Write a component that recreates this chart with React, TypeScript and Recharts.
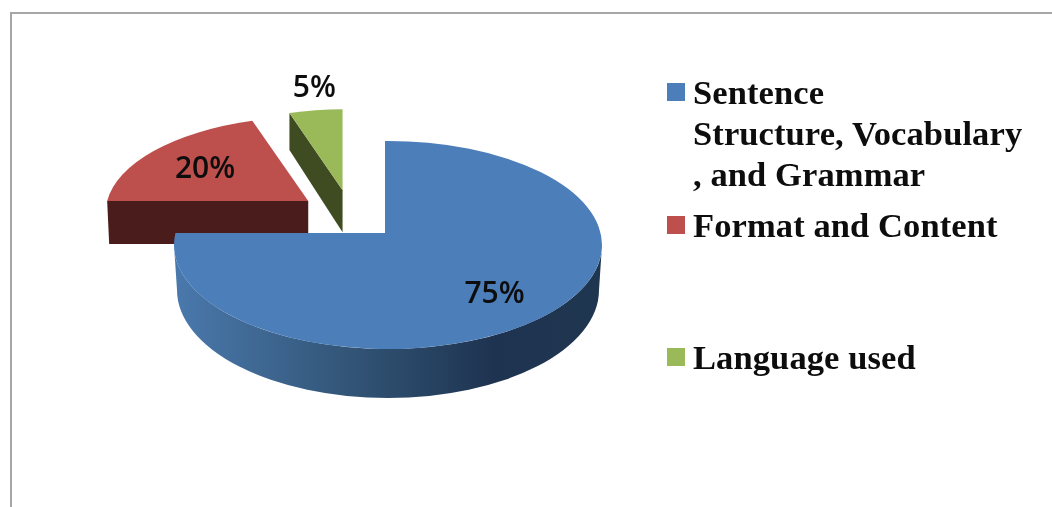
import { Legend, Pie, PieChart } from 'recharts';

const CATEGORIES = [
  'Sentence\nStructure, Vocabulary\n, and Grammar',
  'Format and Content',
  'Language used',
];
const SHARES = [75, 20, 5];
const COLORS = ['#4c7eba', '#bd504d', '#9aba59'];

// Exploded-slice look, relative to the chart's own cx/cy/outerRadius
const WALL_COLORS = ['url(#blueWall)', '#4b1c1c', '#3f4c22'];
const EXPLODE_X = [0, -77, -43];
const EXPLODE_Y = [0, -33, -45];
const SLICE_SCALE = [1, 0.96, 0.91];
const SLICE_TILT = [0.486, 0.466, 0.472];
const WALL_DEPTH = [45, 43, 42];
const WALL_DEPTH_OUTER = [45, 43, 37];
const WALL_SKEW = [0, 2, 0];
const LABEL_DIST = [76, 60, 106];
const LABEL_NUDGE_X = [-1, 1, 7];
const LABEL_NUDGE_Y = [5, 1, 0];

const APEX_SHIFT_X = -3;
const APEX_SHIFT_Y = -12;
const RAD = Math.PI / 180;

// drawing order is back to front, so the big slice comes last and covers the others
const chartData = CATEGORIES.map((name, i) => ({
  name,
  value: SHARES[i],
  fill: COLORS[i],
  sliceIndex: i,
})).reverse();

function geometry(cx: number, cy: number, radius: number, i: number) {
  const s = SLICE_SCALE[i];
  const rx = radius * s;
  const ry = rx * SLICE_TILT[i];
  const ex = cx + EXPLODE_X[i] + 3 * (1 - s);
  const ey = cy + EXPLODE_Y[i] + 12 * (1 - s);
  const ax = ex + APEX_SHIFT_X * s;
  const ay = ey + APEX_SHIFT_Y * s;
  // where a ray leaving the apex at this polar angle meets the rim
  const rim = (deg: number) => {
    const c = Math.cos(deg * RAD);
    const n = -Math.sin(deg * RAD);
    const ux = (ax - ex) / rx;
    const uy = (ay - ey) / ry;
    const b = ux * c + uy * n;
    const t = -b + Math.sqrt(b * b - (ux * ux + uy * uy - 1));
    return { x: ex + (ux + t * c) * rx, y: ey + (uy + t * n) * ry };
  };
  return { rx, ry, ex, ey, ax, ay, rim };
}

function Slice(props: any) {
  const { cx, cy, outerRadius, startAngle, endAngle, fill, payload } = props;
  const i: number = payload.sliceIndex;
  const { rx, ry, ex, ey, ax, ay, rim } = geometry(cx, cy, outerRadius, i);
  const from = rim(startAngle);
  const to = rim(endAngle);
  const large = endAngle - startAngle > 180 ? 1 : 0;
  const depth = WALL_DEPTH[i];
  const top = `M${ax},${ay} L${from.x},${from.y} A${rx},${ry} 0 ${large} 0 ${to.x},${to.y} Z`;
  // the big slice shows its curved outer wall, the two exploded ones a cut face
  const wall =
    i === 0
      ? `M${ex + rx},${ey} A${rx},${ry} 0 0 1 ${ex - rx},${ey} L${ex - rx + 3},${ey + depth} A${rx - 3},${ry + 4} 0 0 0 ${ex + rx - 3},${ey + depth} Z`
      : `M${to.x},${to.y} L${ax},${ay} L${ax},${ay + depth} L${to.x + WALL_SKEW[i]},${to.y + WALL_DEPTH_OUTER[i]} Z`;
  return (
    <g>
      <path d={wall} fill={WALL_COLORS[i]} />
      <path d={top} fill={fill} />
    </g>
  );
}

function SliceLabel(props: any) {
  const { cx, cy, midAngle, outerRadius, payload } = props;
  const i: number = payload.sliceIndex;
  const { ax, ay } = geometry(cx, cy, outerRadius, i);
  const d = LABEL_DIST[i];
  const x = ax + (d * Math.cos(midAngle * RAD)) / SLICE_TILT[i] + LABEL_NUDGE_X[i];
  const y = ay - d * Math.sin(midAngle * RAD) + LABEL_NUDGE_Y[i];
  return (
    <text
      x={x}
      y={y}
      textAnchor="middle"
      dominantBaseline="central"
      fontFamily="'Open Sans', sans-serif"
      fontWeight={600}
      fontSize={30}
      fill="#0d0d0d"
    >
      {`${payload.value}%`}
    </text>
  );
}

function LegendList({ payload }: any) {
  const items = [...(payload ?? [])].reverse();
  return (
    <div
      style={{
        fontFamily: "'Liberation Serif', serif",
        fontWeight: 700,
        fontSize: 34.5,
        letterSpacing: 0.1,
        lineHeight: '41px',
        color: '#0d0d0d',
      }}
    >
      {items.map((item: any, i: number) => (
        <div key={item.value} style={{ display: 'flex', marginBottom: i === 0 ? 10 : 91 }}>
          <span style={{ width: 18, height: 18, marginTop: 11, marginRight: 8, background: item.color, flex: 'none' }} />
          <span style={{ whiteSpace: 'pre' }}>{item.value}</span>
        </div>
      ))}
    </div>
  );
}

export default function App() {
  return (
    <div style={{ position: 'absolute', left: 0, top: 0, width: 1052, height: 507, background: '#fff', overflow: 'hidden' }}>
      <div
        style={{
          position: 'absolute',
          left: 10,
          top: 12,
          right: 0,
          bottom: 0,
          borderTop: '2px solid #a6a6a6',
          borderLeft: '2px solid #a6a6a6',
        }}
      />
      <div style={{ position: 'absolute', left: 0, top: 0, filter: 'blur(0.6px)' }}>
        <PieChart width={1052} height={507} margin={{ top: 0, right: 0, bottom: 0, left: 0 }}>
          <defs>
            <linearGradient id="blueWall" x1="0" y1="0" x2="1" y2="0">
              <stop offset="0" stopColor="#4a79ad" />
              <stop offset="0.4" stopColor="#335678" />
              <stop offset="0.75" stopColor="#1e3350" />
              <stop offset="1" stopColor="#1f3650" />
            </linearGradient>
          </defs>
          <Legend
            content={<LegendList />}
            layout="vertical"
            verticalAlign="top"
            align="right"
            itemSorter={null}
            wrapperStyle={{ left: 667, right: 'auto', top: 72, width: 375 }}
          />
          <Pie
            data={chartData}
            dataKey="value"
            nameKey="name"
            cx={388}
            cy={245}
            outerRadius={214}
            startAngle={90}
            endAngle={450}
            stroke="none"
            shape={Slice}
            label={SliceLabel}
            labelLine={false}
            isAnimationActive={false}
          />
        </PieChart>
      </div>
    </div>
  );
}
